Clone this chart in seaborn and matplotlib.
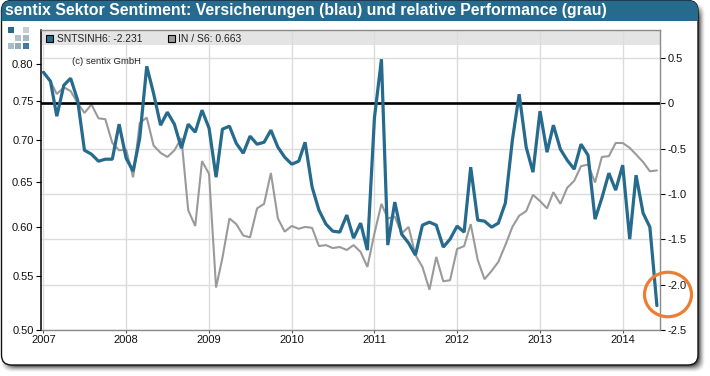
import numpy as np
import pandas as pd
import matplotlib
matplotlib.use("Agg")
import matplotlib.pyplot as plt
import matplotlib.dates as mdates
from matplotlib.patches import FancyBboxPatch, Rectangle, Ellipse
from matplotlib.ticker import NullLocator
import seaborn as sns

# Monatswerte Jan 2007 - Jun 2014
sentiment = [
    0.341, 0.242, -0.143, 0.198, 0.275, 0.033, -0.518, -0.562, -0.639, -0.617, -0.617, -0.231,
    -0.606, -0.749, -0.385, 0.407, 0.110, -0.242, -0.099, -0.231, -0.496, -0.231, -0.319, -0.077,
    -0.275, -0.815, -0.286, -0.253, -0.441, -0.551, -0.363, -0.452, -0.430, -0.297, -0.485, -0.595,
    -0.672, -0.639, -0.430, -0.925, -1.178, -1.333, -1.410, -1.421, -1.233, -1.487, -1.322, -1.619,
    -0.165, 0.485, -1.564, -1.090, -1.443, -1.542, -1.674, -1.344, -1.311, -1.344, -1.586, -1.498,
    -1.355, -1.421, -0.705, -1.289, -1.300, -1.366, -1.322, -1.101, -0.407, 0.099, -0.485, -0.760,
    -0.088, -0.540, -0.242, -0.507, -0.628, -0.727, -0.452, -0.573, -1.278, -1.046, -0.771, -0.958,
    -0.683, -1.498, -0.793, -1.211, -1.366, -2.231,
]
performance = [
    0.789, 0.776, 0.759, 0.768, 0.763, 0.747, 0.734, 0.745, 0.727, 0.726, 0.696, 0.687,
    0.688, 0.655, 0.721, 0.728, 0.693, 0.684, 0.679, 0.687, 0.702, 0.618, 0.601, 0.674,
    0.659, 0.539, 0.568, 0.609, 0.603, 0.591, 0.589, 0.620, 0.625, 0.660, 0.609, 0.595,
    0.601, 0.598, 0.600, 0.599, 0.580, 0.581, 0.578, 0.579, 0.576, 0.581, 0.574, 0.559,
    0.593, 0.625, 0.609, 0.611, 0.593, 0.600, 0.571, 0.559, 0.537, 0.569, 0.545, 0.546,
    0.577, 0.580, 0.603, 0.566, 0.547, 0.555, 0.564, 0.581, 0.600, 0.612, 0.617, 0.635,
    0.628, 0.620, 0.638, 0.625, 0.643, 0.651, 0.668, 0.670, 0.649, 0.679, 0.680, 0.696,
    0.696, 0.690, 0.682, 0.673, 0.662, 0.663,
]
left_ticks = [0.50, 0.55, 0.60, 0.65, 0.70, 0.75, 0.80]
left_labels = ["0.50", "0.55", "0.60", "0.65", "0.70", "0.75", "0.80"]
right_ticks = [-2.5, -2.0, -1.5, -1.0, -0.5, 0, 0.5]
right_labels = ["-2.5", "-2.0", "-1.5", "-1.0", "-0.5", "0", "0.5"]

BLUE = "#266a8e"
GRAY = "#9a9a9a"
GRID = "#dcdcdc"
TITLE = "sentix Sektor Sentiment: Versicherungen (blau) und relative Performance (grau)"

sns.set_theme(style="white")
plt.rcParams["font.family"] = ["Liberation Sans", "DejaVu Sans"]
plt.rcParams["axes.unicode_minus"] = False

df = pd.DataFrame({
    "date": pd.date_range("2007-01-01", periods=len(sentiment), freq="MS"),
    "sentiment": sentiment,
    "performance": performance,
})

W, H = 710, 376
fig = plt.figure(figsize=(W / 100, H / 100), dpi=100, facecolor="white")

# Rahmen, Schatten, Kopfzeile (Pixelkoordinaten)
bg = fig.add_axes([0, 0, 1, 1], zorder=-1)
bg.set_xlim(0, W)
bg.set_ylim(H, 0)
bg.axis("off")
for grow, alpha in [(9, 0.07), (7, 0.1), (5, 0.14), (3, 0.2), (1, 0.3), (-1, 0.45)]:
    bg.add_patch(FancyBboxPatch((6 - grow / 2, 8 - grow / 2), 694 + grow, 359 + grow,
                                boxstyle="round,pad=0,rounding_size=10",
                                fc="#303030", ec="none", alpha=alpha))
card = FancyBboxPatch((1.5, 0.5), 696.5, 364.5, boxstyle="round,pad=0,rounding_size=10",
                      fc="white", ec="#111111", lw=1.0, zorder=2)
bg.add_patch(card)
head = Rectangle((1, 0), 698, 20.5, fc=BLUE, ec="none", zorder=3)
bg.add_patch(head)
head.set_clip_path(card)
bg.text(5, 11, TITLE, color="white", fontsize=11.45, fontweight="bold", va="center", ha="left", zorder=4)

# Logo
logo = [(7.5, 26.5, BLUE), (23, 26.5, "#c4ced4"), (15, 34.5, "#b4c2ca"), (23, 34.5, "#a8b8c2"),
        (7.5, 42.5, "#a9bcc8"), (15, 42.5, "#94acba"), (23, 42.5, "#3f7c9c")]
for lx, ly, lc in logo:
    bg.add_patch(Rectangle((lx, ly), 6, 6, fc=lc, ec="none", zorder=4))

# Plotflaeche
x0, x1, y0, y1 = 40.5, 660.3, 30.3, 330.0
ax = fig.add_axes([x0 / W, 1 - y1 / H, (x1 - x0) / W, (y1 - y0) / H])
ax.patch.set_alpha(0)
ax_log = ax.twinx()
ax_top = ax.twinx()

ax.set_xlim(pd.Timestamp("2006-12-19"), pd.Timestamp("2014-06-16"))
ax.set_ylim(-2.5, 0.804)
ax_top.set_ylim(-2.5, 0.804)
ax_log.set_yscale("log")
ax_log.set_ylim(0.5, 0.8495)

sns.lineplot(data=df, x="date", y="performance", ax=ax_log, color=GRAY, lw=1.5,
             solid_joinstyle="bevel", legend=False)
ax_top.axhline(0, color="black", lw=1.9, zorder=1)
sns.lineplot(data=df, x="date", y="sentiment", ax=ax_top, color=BLUE, lw=2.3,
             solid_joinstyle="bevel", legend=False, zorder=2)

ax.add_patch(Rectangle((0, 0.95), 1, 0.05, transform=ax.transAxes, fc="#e4e4e4", ec="none", zorder=0.2))
ax.set_axisbelow(True)
ax.grid(True, color=GRID, lw=1.0)

ax.xaxis.set_major_locator(mdates.YearLocator())
ax.xaxis.set_major_formatter(mdates.DateFormatter("%Y"))
ax.tick_params(axis="x", length=2, width=0.8, color="#555555", pad=1.5, labelsize=8, labelcolor="#111111", bottom=True)

ax.yaxis.tick_right()
ax.set_yticks(right_ticks[:-1] + [0.5])
ax.set_yticklabels(right_labels)
ax.tick_params(axis="y", length=3.5, width=0.8, color="black", pad=1.5, labelsize=8, labelcolor="#111111", right=True, left=False)

ax_log.yaxis.tick_left()
ax_log.set_yticks(left_ticks)
ax_log.set_yticklabels(left_labels)
ax_log.yaxis.set_minor_locator(NullLocator())
ax_log.tick_params(axis="y", length=3.5, width=0.8, color="black", pad=1.5, labelsize=8, labelcolor="#111111", left=True, right=False)

ax_top.set_yticks([])
for a in (ax, ax_log, ax_top):
    a.set_xlabel("")
    a.set_ylabel("")
for a in (ax_log, ax_top):
    for s in a.spines.values():
        s.set_visible(False)
for name in ("top", "right", "bottom"):
    ax.spines[name].set_color("#8a8a8a")
    ax.spines[name].set_linewidth(1.0)
ax.spines["left"].set_color("black")
ax.spines["left"].set_linewidth(1.1)

# Legende, Copyright und Markierung oben drauf
fg = fig.add_axes([0, 0, 1, 1], zorder=10)
fg.set_xlim(0, W)
fg.set_ylim(H, 0)
fg.axis("off")
fg.add_patch(Rectangle((45.5, 35), 7.5, 7, fc=BLUE, ec="black", lw=0.8))
fg.text(57, 38.7, "SNTSINH6: -2.231", fontsize=7.35, color="#222222", va="center", ha="left")
fg.add_patch(Rectangle((167.5, 35), 7.5, 7, fc=GRAY, ec="black", lw=0.8))
fg.text(178, 38.7, "IN / S6: 0.663", fontsize=7.5, color="#222222", va="center", ha="left")
fg.text(72, 61, "(c) sentix GmbH", fontsize=6.8, color="#222222", va="center", ha="left")
fg.add_patch(Ellipse((668, 294.5), 47, 44.5, fc="none", ec="#ed7d31", lw=2.3))

fig.savefig("out.png", dpi=100)
